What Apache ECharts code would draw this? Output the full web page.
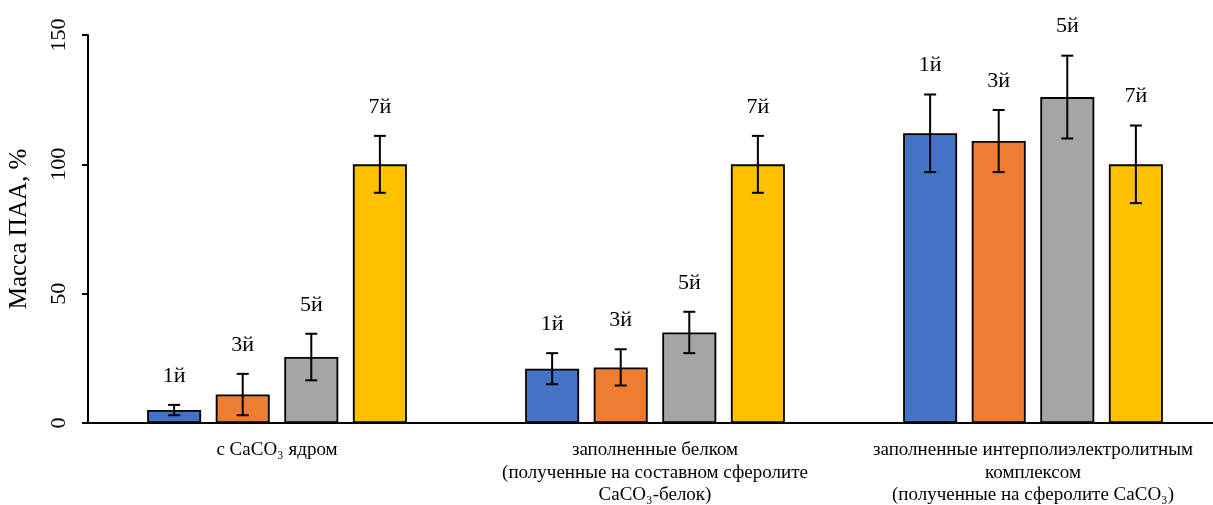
<!DOCTYPE html>
<html>
<head>
<meta charset="utf-8">
<script src="https://cdn.jsdelivr.net/npm/echarts@6/dist/echarts.min.js"></script>
<style>
  html, body { margin: 0; padding: 0; background: #fff; }
  #chart { width: 1213px; height: 505px; }
</style>
</head>
<body>
<div id="chart"></div>
<script>
// Capsule types along the category axis
const categories = [
  'с CaCO₃ ядром',
  'заполненные белком\n(полученные на составном сферолите\nCaCO₃-белок)',
  'заполненные интерполиэлектролитным\nкомплексом\n(полученные на сферолите CaCO₃)'
];

// Layer numbers (one bar series each)
const layerNames = ['1й', '3й', '5й', '7й'];

// Mass of PAA, % — one array per layer, in category order
const layer1 = [5, 21, 112];
const layer3 = [11, 21.5, 109];
const layer5 = [25.5, 35, 126];
const layer7 = [100, 100, 100];

// Error bar half-lengths, same order
const err1 = [2, 6, 15];
const err3 = [8, 7, 12];
const err5 = [9, 8, 16];
const err7 = [11, 11, 15];

// Y axis ticks
const yTicks = [0, 50, 100, 150];

const values = [layer1, layer3, layer5, layer7];
const errors = [err1, err3, err5, err7];
const colors = ['#4472c4', '#ed7d31', '#a5a5a5', '#ffc000'];

const BAR_W = 54;
const BAR_GAP = '27%';
const FONT = '"Liberation Serif", "Times New Roman", serif';

const barSeries = values.map((vals, si) => ({
  type: 'bar',
  name: layerNames[si],
  data: vals,
  barWidth: BAR_W,
  barGap: BAR_GAP,
  itemStyle: { color: colors[si], borderColor: '#000', borderWidth: 1.8 },
  silent: true,
  z: 2
}));

// Error bars with caps plus the layer label above each bar
const errorSeries = values.map((vals, si) => ({
  type: 'custom',
  name: layerNames[si] + ' err',
  data: vals.map((v, ci) => [ci, v, errors[si][ci]]),
  encode: { x: 0, y: 1 },
  z: 10,
  silent: true,
  renderItem(params, api) {
    const ci = api.value(0);
    const v = api.value(1);
    const e = api.value(2);
    const layout = api.barLayout({ count: values.length, barWidth: BAR_W, barGap: BAR_GAP });
    const x = api.coord([ci, 0])[0] + layout[si].offsetCenter;
    const yTop = api.coord([ci, v + e])[1];
    const yBot = api.coord([ci, v - e])[1];
    const cap = 6;
    const stroke = { stroke: '#000', lineWidth: 2 };
    return {
      type: 'group',
      children: [
        { type: 'line', shape: { x1: x, y1: yTop, x2: x, y2: yBot }, style: stroke },
        { type: 'line', shape: { x1: x - cap, y1: yTop, x2: x + cap, y2: yTop }, style: stroke },
        { type: 'line', shape: { x1: x - cap, y1: yBot, x2: x + cap, y2: yBot }, style: stroke },
        {
          type: 'text',
          x: x,
          y: yTop - 29,
          style: {
            text: layerNames[si],
            fill: '#000',
            font: '22px ' + FONT,
            align: 'center',
            verticalAlign: 'middle'
          }
        }
      ]
    };
  }
}));

const chart = echarts.init(document.getElementById('chart'), null, { renderer: 'canvas' });
chart.setOption({
  animation: false,
  backgroundColor: '#ffffff',
  grid: {
    left: 88, top: 35, bottom: 82, width: 1134,
    containLabel: false,
    outerBoundsMode: 'none'
  },
  xAxis: {
    type: 'category',
    data: categories,
    axisLine: { lineStyle: { color: '#000', width: 2 } },
    axisTick: { show: false },
    axisLabel: {
      interval: 0,
      margin: 16,
      color: '#000',
      fontFamily: FONT,
      fontSize: 19,
      lineHeight: 22.5,
      align: 'center'
    }
  },
  yAxis: {
    type: 'value',
    min: yTicks[0],
    max: yTicks[yTicks.length - 1],
    interval: yTicks[1] - yTicks[0],
    name: 'Масса ПАА, %',
    nameLocation: 'middle',
    nameGap: 56,
    nameRotate: 90,
    nameTextStyle: { color: '#000', fontFamily: FONT, fontSize: 25 },
    axisLine: { show: true, lineStyle: { color: '#000', width: 2 } },
    axisTick: { show: true, length: 6, lineStyle: { color: '#000', width: 2 } },
    splitLine: { show: false },
    axisLabel: {
      rotate: 90,
      margin: 18,
      color: '#000',
      fontFamily: FONT,
      fontSize: 22
    }
  },
  series: barSeries.concat(errorSeries)
});
</script>
</body>
</html>
